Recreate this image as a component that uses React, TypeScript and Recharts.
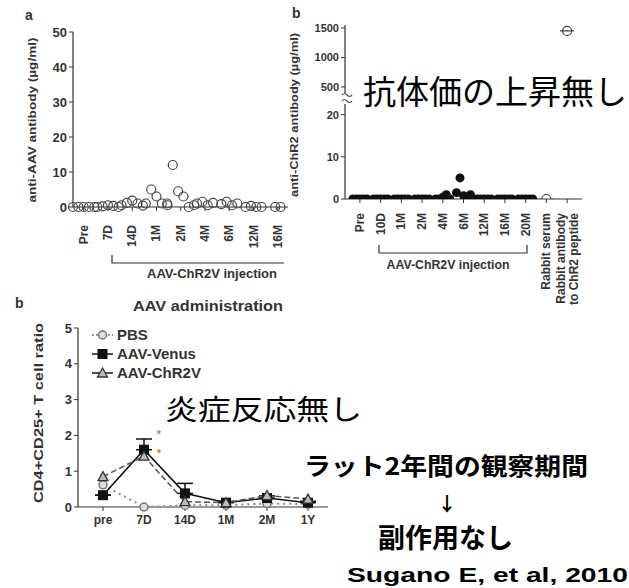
import { ScatterChart, Scatter, XAxis, YAxis, LineChart, Line, ErrorBar, Legend } from "recharts"

// panel a: anti-AAV antibody
const aCategories = ["Pre", "7D", "14D", "1M", "2M", "4M", "6M", "12M", "16M"]
const aValues = [
  [0, 0, 0, 0, 0],
  [0, 0.2, 0.5, 0.3, 0],
  [0.5, 1.2, 1.8, 1, 0.4],
  [1, 5, 3, 1, 1],
  [0.5, 12, 4.5, 3, 0, 0.5],
  [1, 1.5, 0.5, 1.2],
  [0.8, 1.5, 0.5, 1],
  [0, 0.3, 0, 0],
  [0, 0],
]
const aTicks = [0, 10, 20, 30, 40, 50]

// panel b: anti-ChR2 antibody (broken axis)
const bCategories = ["Pre", "10D", "1M", "2M", "4M", "6M", "12M", "16M", "20M", "Rabbit serum", "Rabbit antibody\nto ChR2 peptide"]
const bRatValues = [
  [0, 0, 0, 0, 0],
  [0, 0, 0, 0, 0],
  [0, 0, 0, 0, 0],
  [0, 0, 0, 0, 0],
  [0, 0, 0.4, 1, 0],
  [1.5, 5, 0.8, 0, 1],
  [0, 0, 0, 0, 0],
  [0, 0, 0, 0, 0],
  [0, 0, 0, 0, 0],
]
const bRabbitValues = [[0], [1450]]
const bLowTicks = [0, 10, 20]
const bHighTicks = [500, 1000, 1500]

// panel c: CD4+CD25+ T cell ratio
const cCategories = ["pre", "7D", "14D", "1M", "2M", "1Y"]
const pbs = [0.62, 0.0, 0.05, 0.05, 0.1, 0.08]
const venus = [0.33, 1.6, 0.38, 0.12, 0.25, 0.12]
const venusErr = [0, 0.3, 0.28, 0.04, 0.06, 0.04]
const chr2v = [0.85, 1.42, 0.15, 0.12, 0.32, 0.22]
const cTicks = [0, 1, 2, 3, 4, 5]
const cSeries = ["pbs", "venus", "chr2v"]
const cNames = ["PBS", "AAV-Venus", "AAV-ChR2V"]

const FONT = "'Liberation Sans', Arial, sans-serif"
const CJK = "'Noto Sans CJK JP', sans-serif"
const INK = "#333"

// lay each category's values out as a small cluster around its index
const cluster = (values: number[][], step: number, first = 0) =>
  values.flatMap((vals, i) =>
    vals.map((v, j) => ({ x: first + i + (j - (vals.length - 1) / 2) * step, y: v }))
  )

const aPoints = cluster(aValues, 0.22)
const bRatPoints = cluster(bRatValues, 0.17)
const bRabbitPoints = cluster(bRabbitValues, 0, bRatValues.length)

const cData = cCategories.map((name, i) => ({
  name,
  pbs: pbs[i],
  venus: venus[i],
  venusErr: [0, venusErr[i]],
  chr2v: chr2v[i],
}))

const tickStyle = { fontSize: 12, fontWeight: 700, fill: INK, fontFamily: FONT }

const rotatedTick = (labels: string[], gap: number) => (props: any) => {
  const { x, y, payload } = props
  const label = labels[Math.round(payload.value)]
  if (label === undefined) return <g />
  const lines = label.split("\n")
  const top = y + gap
  return (
    <g>
      {lines.map((line, k) => (
        <text
          key={k}
          x={x}
          y={top}
          dy={(k - (lines.length - 1) / 2) * 13 + 4}
          transform={`rotate(-90 ${x} ${top})`}
          textAnchor="end"
          fontSize={12}
          fontWeight={700}
          fill={INK}
          fontFamily={FONT}
        >
          {line}
        </text>
      ))}
    </g>
  )
}

const OpenCircle = (props: any) => (
  <circle cx={props.cx} cy={props.cy} r={4.5} fill="none" stroke="#444" strokeWidth={1.2} />
)
const FilledCircle = (props: any) => <circle cx={props.cx} cy={props.cy} r={4.5} fill="#111" />
const CrossedCircle = (props: any) => (
  <g>
    <circle cx={props.cx} cy={props.cy} r={4.5} fill="#fff" stroke="#444" strokeWidth={1.2} />
    <line x1={props.cx - 7} x2={props.cx + 7} y1={props.cy} y2={props.cy} stroke="#444" strokeWidth={1.2} />
  </g>
)

const markers: Record<string, (cx: number, cy: number) => JSX.Element> = {
  pbs: (cx, cy) => <circle cx={cx} cy={cy} r={4} fill="#ddd" stroke="#777" strokeWidth={1.5} />,
  venus: (cx, cy) => <rect x={cx - 5} y={cy - 5} width={10} height={10} fill="#111" />,
  chr2v: (cx, cy) => (
    <path d={`M${cx},${cy - 5} L${cx + 5},${cy + 4} L${cx - 5},${cy + 4} Z`} fill="#bbb" stroke="#333" strokeWidth={1.3} />
  ),
}

const seriesStyle: Record<string, { stroke: string; dash?: string; width: number }> = {
  pbs: { stroke: "#888", dash: "2 4", width: 2 },
  venus: { stroke: "#111", width: 1.6 },
  chr2v: { stroke: "#555", dash: "6 3", width: 1.5 },
}

const CLegend = (props: any) => {
  const payload = [...(props.payload || [])].sort(
    (p: any, q: any) => cSeries.indexOf(p.dataKey) - cSeries.indexOf(q.dataKey)
  )
  return (
    <svg width={170} height={62}>
      {payload.map((p: any, i: number) => {
        const key = p.dataKey as string
        const cy = 9 + i * 19
        return (
          <g key={key}>
            <line x1={0} x2={21} y1={cy} y2={cy} stroke={key === "pbs" ? "#777" : "#222"} strokeWidth={1.6} strokeDasharray={key === "pbs" ? "2 2" : undefined} />
            {markers[key](10.5, cy)}
            <text x={25} y={cy + 5} fontSize={15} fontWeight={700} fill={INK} fontFamily={FONT}>
              {p.value}
            </text>
          </g>
        )
      })}
    </svg>
  )
}

export default function App() {
  return (
    <div style={{ position: "absolute", left: 0, top: 0, width: 629, height: 588, background: "#fff", overflow: "hidden" }}>
      {/* panel a */}
      <div style={{ position: "absolute", left: 0, top: 0, width: 288, height: 300, overflow: "hidden" }}>
        <ScatterChart width={300} height={300} margin={{ top: 32, right: 10, bottom: 53, left: 33 }}>
          <XAxis
            type="number"
            dataKey="x"
            domain={[-0.42, 8.5]}
            ticks={aCategories.map((_, i) => i)}
            height={40}
            tickSize={4}
            tick={rotatedTick(aCategories, 12)}
            axisLine={{ stroke: INK, strokeWidth: 1.2 }}
            tickLine={{ stroke: INK }}
            interval={0}
          />
          <YAxis
            type="number"
            dataKey="y"
            domain={[0, 50]}
            ticks={aTicks}
            width={40}
            tickSize={4}
            tick={{ ...tickStyle, fontSize: 13 }}
            axisLine={{ stroke: INK, strokeWidth: 1.2 }}
            tickLine={{ stroke: INK }}
          />
          <Scatter data={aPoints} shape={OpenCircle} isAnimationActive={false} />
        </ScatterChart>
      </div>

      {/* panel b, upper part of the broken axis */}
      <div style={{ position: "absolute", left: 280, top: 0, width: 320, height: 110 }}>
        <ScatterChart width={320} height={110} margin={{ top: 25, right: 18, bottom: 13, left: 25 }}>
          <XAxis type="number" dataKey="x" domain={[-0.72, 10.72]} hide />
          <YAxis
            type="number"
            dataKey="y"
            domain={[330, 1550]}
            allowDataOverflow
            ticks={bHighTicks}
            width={40}
            tickSize={4}
            tick={{ ...tickStyle, fontSize: 11 }}
            axisLine={{ stroke: INK, strokeWidth: 1.2 }}
            tickLine={{ stroke: INK }}
          />
          <Scatter data={bRabbitPoints.filter((p) => p.y >= 330)} shape={CrossedCircle} isAnimationActive={false} />
        </ScatterChart>
      </div>

      {/* panel b, lower part */}
      <div style={{ position: "absolute", left: 280, top: 95, width: 320, height: 220 }}>
        <ScatterChart width={320} height={220} margin={{ top: 7, right: 18, bottom: 76, left: 25 }}>
          <XAxis
            type="number"
            dataKey="x"
            domain={[-0.72, 10.72]}
            ticks={bCategories.map((_, i) => i)}
            height={40}
            tickSize={4}
            tick={rotatedTick(bCategories, 8)}
            axisLine={{ stroke: INK, strokeWidth: 1.2 }}
            tickLine={{ stroke: INK }}
            interval={0}
          />
          <YAxis
            type="number"
            dataKey="y"
            domain={[0, 23]}
            allowDataOverflow
            ticks={bLowTicks}
            width={40}
            tickSize={4}
            tick={{ ...tickStyle, fontSize: 11 }}
            axisLine={{ stroke: INK, strokeWidth: 1.2 }}
            tickLine={{ stroke: INK }}
          />
          <Scatter data={bRatPoints} shape={FilledCircle} isAnimationActive={false} />
          <Scatter data={bRabbitPoints.filter((p) => p.y <= 23)} shape={CrossedCircle} isAnimationActive={false} />
        </ScatterChart>
      </div>

      {/* panel c: T cell ratio */}
      <div style={{ position: "absolute", left: 0, top: 300, width: 340, height: 240 }}>
        <LineChart width={340} height={240} data={cData} margin={{ top: 28, right: 12, bottom: 3, left: 38 }}>
          <XAxis
            dataKey="name"
            height={30}
            padding={{ left: 25, right: 20 }}
            tickSize={4}
            tickMargin={4}
            tick={tickStyle}
            axisLine={{ stroke: "#999", strokeWidth: 2 }}
            tickLine={{ stroke: INK }}
            interval={0}
          />
          <YAxis
            domain={[0, 5]}
            ticks={cTicks}
            width={40}
            tickSize={4}
            tick={{ ...tickStyle, fontSize: 13 }}
            axisLine={{ stroke: INK, strokeWidth: 1.2 }}
            tickLine={{ stroke: INK }}
          />
          <Legend
            layout="vertical"
            align="center"
            verticalAlign="middle"
            content={CLegend}
            wrapperStyle={{ left: 92, top: 26, width: 170, height: 62 }}
          />
          {cSeries.map((key, i) => (
            <Line
              key={key}
              dataKey={key}
              name={cNames[i]}
              stroke={seriesStyle[key].stroke}
              strokeWidth={seriesStyle[key].width}
              strokeDasharray={seriesStyle[key].dash}
              dot={(p: any) => <g key={`${key}-${p.index}`}>{markers[key](p.cx, p.cy)}</g>}
              isAnimationActive={false}
            >
              {key === "venus" && <ErrorBar dataKey="venusErr" width={8} stroke="#111" strokeWidth={1.5} />}
            </Line>
          ))}
        </LineChart>
      </div>

      {/* labels and annotations */}
      <svg width={629} height={588} style={{ position: "absolute", left: 0, top: 0, pointerEvents: "none" }}>
        <g fontFamily={FONT} fontWeight={700} fill={INK}>
          <text x={25} y={20} fontSize={14}>a</text>
          <text x={292} y={18} fontSize={14}>b</text>
          <text x={15} y={308} fontSize={14}>b</text>

          <text x={32} y={120} dy={4} fontSize={11.5} textAnchor="middle" transform="rotate(-90 32 120)" textLength={165} lengthAdjust="spacingAndGlyphs">
            anti-AAV antibody (µg/ml)
          </text>
          <text x={294} y={115} dy={4} fontSize={11} textAnchor="middle" transform="rotate(-90 294 115)" textLength={164} lengthAdjust="spacingAndGlyphs">
            anti-ChR2 antibody (µg/ml)
          </text>
          <text x={38} y={413} dy={5} fontSize={13} textAnchor="middle" transform="rotate(-90 38 413)" textLength={180} lengthAdjust="spacingAndGlyphs">
            CD4+CD25+ T cell ratio
          </text>

          <text x={212} y={278} fontSize={12.5} textAnchor="middle" textLength={130} lengthAdjust="spacingAndGlyphs">AAV-ChR2V injection</text>
          <text x={448} y={269} fontSize={12} textAnchor="middle" textLength={123} lengthAdjust="spacingAndGlyphs">AAV-ChR2V injection</text>
          <text x={208} y={311} fontSize={15} textAnchor="middle" textLength={150} lengthAdjust="spacingAndGlyphs">AAV administration</text>

          <text x={159} y={438} fontSize={10} fill="#c8772f" textAnchor="middle">*</text>
          <text x={159} y={457} fontSize={10} fill="#c8772f" textAnchor="middle">*</text>
        </g>

        <path d="M112,255 V263 H284" fill="none" stroke={INK} strokeWidth={1.2} />
        <path d="M379,245 V253 H527 V245" fill="none" stroke={INK} strokeWidth={1.2} />

        <rect x={342} y={94} width={10} height={10} fill="#fff" />
        <path d="M342,95 q2.5,-3 5,0 t5,0 M342,101 q2.5,-3 5,0 t5,0" fill="none" stroke="#555" strokeWidth={1.2} />

        <g fontFamily={CJK} fill="#000">
          <text x={363} y={104} fontSize={33} textLength={264} lengthAdjust="spacingAndGlyphs">抗体価の上昇無し</text>
          <text x={165} y={420} fontSize={28} textLength={197} lengthAdjust="spacingAndGlyphs">炎症反応無し</text>
          <text x={304} y={475} fontSize={24} fontWeight={700} textLength={284} lengthAdjust="spacingAndGlyphs">ラット2年間の観察期間</text>
          <text x={447} y={511} fontSize={19} fontWeight={700} textAnchor="middle">↓</text>
          <text x={378} y={548} fontSize={27} fontWeight={700} textLength={135} lengthAdjust="spacingAndGlyphs">副作用なし</text>
        </g>
        <text x={347} y={582} fontSize={21} fontWeight={700} fontFamily={FONT} fill="#000" textLength={281} lengthAdjust="spacingAndGlyphs">
          Sugano E, et al, 2010
        </text>
      </svg>
    </div>
  )
}
